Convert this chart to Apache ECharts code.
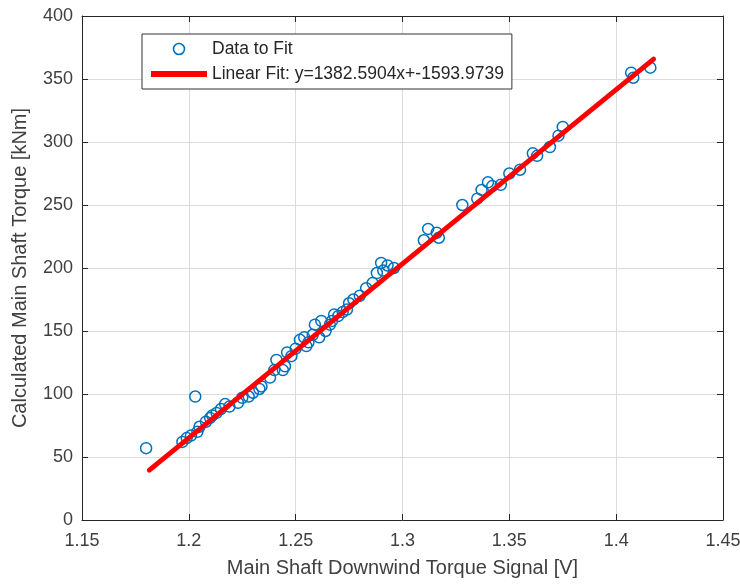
<!DOCTYPE html>
<html>
<head>
<meta charset="utf-8">
<script src="https://cdn.jsdelivr.net/npm/echarts@6/dist/echarts.min.js"></script>
<style>html,body{margin:0;padding:0;background:#fff}#c{width:740px;height:584px}</style>
</head>
<body>
<div id="c"></div>
<script>
// Data
const dataX = [1.180,1.197,1.199,1.201,1.203,1.204,1.205,1.208,1.210,1.211,1.213,1.215,1.217,1.219,1.223,1.225,1.228,1.230,1.233,1.234,1.238,1.240,1.241,1.244,1.245,1.246,1.248,1.250,1.252,1.254,1.255,1.256,1.258,1.259,1.261,1.262,1.264,1.266,1.267,1.268,1.270,1.272,1.274,1.275,1.277,1.280,1.283,1.286,1.288,1.290,1.291,1.293,1.296,1.310,1.312,1.316,1.317,1.328,1.335,1.337,1.340,1.342,1.346,1.350,1.355,1.361,1.363,1.369,1.373,1.375,1.407,1.408,1.416];
const dataY = [57,62,65,67,98,70,74,78,81,83,85,88,92,90,93,97,98,101,104,106,113,119,127,119,122,133,130,136,143,145,138,141,147,155,145,158,150,155,158,163,162,165,167,172,175,178,184,188,196,204,198,202,200,222,231,228,224,250,255,262,268,265,266,275,278,291,289,296,305,312,355,351,359];
const fitX = [1.1815, 1.4175];
const fitY = [39.6, 365.8];
const xTicks = [1.15,1.2,1.25,1.3,1.35,1.4,1.45];
const yTicks = [0,50,100,150,200,250,300,350,400];
const seriesNames = ['Data to Fit', 'Linear Fit: y=1382.5904x+-1593.9739'];
const xName = 'Main Shaft Downwind Torque Signal [V]';
const yName = 'Calculated Main Shaft Torque [kNm]';

const FONT = '"Liberation Sans", Arial, sans-serif';
const chart = echarts.init(document.getElementById('c'), null, {renderer: 'canvas'});
const scatterData = dataX.map((x, i) => [x, dataY[i]]);
const fitData = fitX.map((x, i) => [x, fitY[i]]);
const axisCol = '#262626';
const labelCol = '#404040';

chart.setOption({
  animation: false,
  backgroundColor: '#fff',
  grid: {left: 82, right: 17, top: 16, bottom: 64, show: false, containLabel: false, outerBoundsMode: 'none'},
  legend: {
    orient: 'vertical', left: 142, top: 34,
    backgroundColor: '#fff', borderColor: '#333', borderWidth: 1,
    padding: [6, 8, 6, 6], itemGap: 7,
    itemWidth: 56, itemHeight: 11,
    textStyle: {fontFamily: FONT, fontSize: 17.5, color: '#262626'},
    data: [
      {name: seriesNames[0], icon: 'circle', itemStyle: {color: '#fff', borderColor: '#0072BD', borderWidth: 1.6}},
      {name: seriesNames[1], itemStyle: {opacity: 0}, lineStyle: {color: '#ff0000', width: 6, cap: 'butt'}}
    ]
  },
  xAxis: [{
    type: 'value', min: 1.15, max: 1.45, interval: 0.05,
    name: xName, nameLocation: 'middle', nameGap: 38,
    nameTextStyle: {fontFamily: FONT, fontSize: 20, color: labelCol},
    axisLine: {show: true, onZero: false, lineStyle: {color: axisCol, width: 1}},
    axisTick: {show: true, inside: true, length: 6, lineStyle: {color: axisCol}},
    axisLabel: {fontFamily: FONT, fontSize: 18, color: labelCol, margin: 12,
      formatter: v => { const t = xTicks.find(t => Math.abs(t - v) < 1e-9); return t === undefined ? '' : String(t); }},
    splitLine: {show: true, lineStyle: {color: '#dcdcdc', width: 1}}
  }, {
    type: 'value', min: 1.15, max: 1.45, interval: 0.05, position: 'top',
    axisLine: {show: true, onZero: false, lineStyle: {color: axisCol, width: 1}},
    axisTick: {show: true, inside: true, length: 6, lineStyle: {color: axisCol}},
    axisLabel: {show: false}, splitLine: {show: false}
  }],
  yAxis: [{
    type: 'value', min: 0, max: 400, interval: 50,
    name: yName, nameLocation: 'middle', nameGap: 52, nameRotate: 90,
    nameTextStyle: {fontFamily: FONT, fontSize: 20, color: labelCol},
    axisLine: {show: true, onZero: false, lineStyle: {color: axisCol, width: 1}},
    axisTick: {show: true, inside: true, length: 6, lineStyle: {color: axisCol}},
    axisLabel: {fontFamily: FONT, fontSize: 18, color: labelCol, margin: 9,
      formatter: v => { const t = yTicks.find(t => t === v); return t === undefined ? '' : String(t); }},
    splitLine: {show: true, lineStyle: {color: '#dcdcdc', width: 1}}
  }, {
    type: 'value', min: 0, max: 400, interval: 50, position: 'right',
    axisLine: {show: true, onZero: false, lineStyle: {color: axisCol, width: 1}},
    axisTick: {show: true, inside: true, length: 6, lineStyle: {color: axisCol}},
    axisLabel: {show: false}, splitLine: {show: false}
  }],
  series: [{
    name: seriesNames[0], type: 'scatter', data: scatterData,
    symbol: 'circle', symbolSize: 11, symbolKeepAspect: true,
    itemStyle: {color: 'rgba(255,255,255,0)', borderColor: '#0072BD', borderWidth: 1.5, opacity: 1},
    z: 2
  }, {
    name: seriesNames[1], type: 'line', data: fitData,
    showSymbol: false, symbol: 'none',
    lineStyle: {color: '#ff0000', width: 5, cap: 'round'},
    itemStyle: {color: '#ff0000'},
    z: 3
  }]
});
</script>
</body>
</html>
